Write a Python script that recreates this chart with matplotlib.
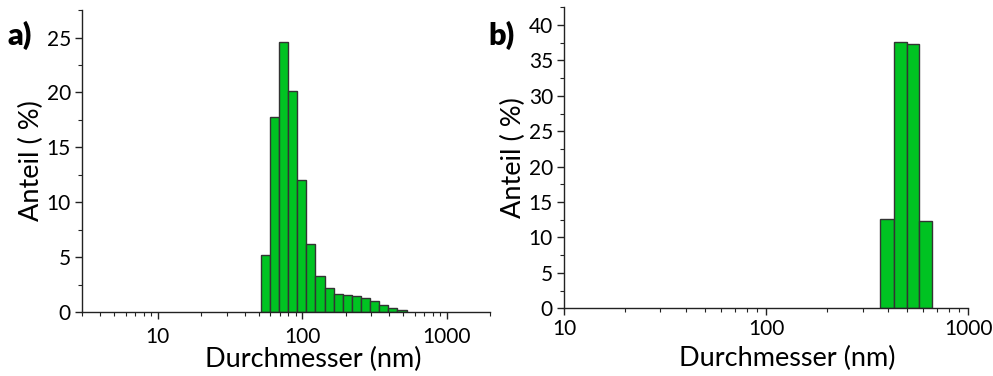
import matplotlib
matplotlib.use('Agg')
import matplotlib.pyplot as plt
from matplotlib.ticker import MultipleLocator
import numpy as np

plt.rcParams['font.family'] = ['Lato', 'DejaVu Sans']

# a) Klassengrenzen (nm) und Anteile (%)
kanten_a = [51.6, 59.8, 69.0, 79.6, 92.4, 106.6, 123.5, 143.2, 165.2, 190.5,
            221.2, 255.3, 295.8, 341.4, 395.6, 456.3, 529.8]
anteil_a = [5.2, 17.8, 24.6, 20.1, 12.0, 6.2, 3.3, 2.15, 1.67, 1.58,
            1.45, 1.25, 0.97, 0.64, 0.34, 0.15]

# b)
kanten_b = [368, 428, 497, 574, 664]
anteil_b = [12.6, 37.6, 37.3, 12.4]

gruen = '#00c322'
rand = '#333333'

fig = plt.figure(figsize=(9.93, 3.76), dpi=100)
ax1 = fig.add_axes([0.0826, 0.1702, 0.411, 0.803])
ax2 = fig.add_axes([0.568, 0.180, 0.407, 0.8005])

def zeichne(ax, kanten, werte):
    kanten = np.array(kanten)
    ax.set_xscale('log')
    ax.bar(kanten[:-1], werte, width=np.diff(kanten), align='edge', color=gruen,
           edgecolor=rand, linewidth=1.0)
    for s in ['top', 'right']:
        ax.spines[s].set_visible(False)
    for s in ['left', 'bottom']:
        ax.spines[s].set_color('#222222')
        ax.spines[s].set_linewidth(1.0)
    ax.yaxis.set_minor_locator(MultipleLocator(2.5))
    ax.tick_params(which='major', length=5, width=1, labelsize=15, color='#222222', pad=3)
    ax.tick_params(which='minor', length=3, width=0.8, color='#222222')
    ax.set_ylabel('Anteil ( %)', fontsize=19.5, labelpad=2)
    ax.set_xlabel('Durchmesser (nm)', fontsize=19.5)

zeichne(ax1, kanten_a, anteil_a)
ax1.set_xlim(3, 2000)
ax1.set_ylim(0, 27.5)
ax1.yaxis.set_major_locator(MultipleLocator(5))
ax1.set_xticks([10, 100, 1000])
ax1.set_xticklabels(['10', '100', '1000'])
ax1.tick_params(axis='x', which='major', pad=6)
ax1.xaxis.set_label_coords(0.566, -0.115)

zeichne(ax2, kanten_b, anteil_b)
ax2.set_xlim(10, 1000)
ax2.set_ylim(0, 42.5)
ax2.yaxis.set_major_locator(MultipleLocator(5))
ax2.set_xticks([10, 100, 1000])
ax2.set_xticklabels(['10', '100', '1000'])
ax2.xaxis.set_label_coords(0.552, -0.125)

fig.text(0.008, 0.88, 'a)', fontsize=22, fontweight='heavy')
fig.text(0.492, 0.88, 'b)', fontsize=22, fontweight='heavy')

fig.savefig('out.png', dpi=100)
